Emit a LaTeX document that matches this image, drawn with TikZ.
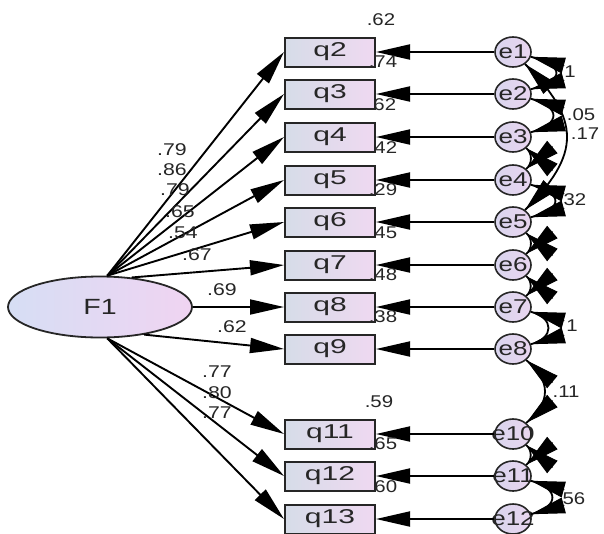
\documentclass[tikz,border=0pt]{standalone}
\usepackage{fontspec}
\usepackage{graphicx}
\setmainfont{Liberation Sans}
\usetikzlibrary{arrows.meta,shapes.geometric}
\definecolor{boxL}{HTML}{D6DCE8}
\definecolor{boxR}{HTML}{EFD9F1}
\definecolor{errL}{HTML}{D9D5EE}
\definecolor{errR}{HTML}{E9D5EF}
\definecolor{fL}{HTML}{D6DEF4}
\definecolor{fR}{HTML}{F0D4F2}
\newcommand{\hsc}[2]{\scalebox{#1}[1]{#2}}
\begin{document}
\begin{tikzpicture}[x=1pt,y=1pt,
  box/.style={draw=black!85, line width=2pt, minimum width=90pt, minimum height=29pt, inner sep=0pt, left color=boxL, right color=boxR, font=\fontsize{20}{20}\selectfont, text=black!85},
  err/.style={ellipse, draw=black!85, line width=1.6pt, minimum width=36pt, minimum height=30pt, inner sep=0pt, left color=errL, right color=errR},
  etxt/.style={font=\fontsize{20}{20}\selectfont, text=black!85, inner sep=0pt},
  lat/.style={ellipse, draw=black!85, line width=1.8pt, minimum width=184pt, minimum height=61pt, inner sep=0pt, left color=fL, right color=fR, font=\fontsize{22}{22}\selectfont, text=black!85},
  lbl/.style={font=\fontsize{17}{17}\selectfont, text=black!85, inner sep=0pt},
  arr/.style={-{Triangle[length=34pt,width=15pt]}, line width=1.9pt},
  covline/.style={line width=1.8pt},
  covhead/.style={{Triangle[length=34pt,width=16pt]}-, line width=1pt},
]
\useasboundingbox (0,0) rectangle (604,-533);
\fill[white] (0,0) rectangle (604,-533);

% latent
\node[lat] (F1) at (100,-307) {\hsc{1.3}{F1}};

% observed boxes
\node[box] (q2)  at (330,-52)  {\hsc{1.5}{q2}};
\node[box] (q3)  at (330,-94)  {\hsc{1.5}{q3}};
\node[box] (q4)  at (330,-137) {\hsc{1.5}{q4}};
\node[box] (q5)  at (330,-180) {\hsc{1.5}{q5}};
\node[box] (q6)  at (330,-222) {\hsc{1.5}{q6}};
\node[box] (q7)  at (330,-265) {\hsc{1.5}{q7}};
\node[box] (q8)  at (330,-307) {\hsc{1.5}{q8}};
\node[box] (q9)  at (330,-349) {\hsc{1.5}{q9}};
\node[box] (q11) at (330,-434) {\hsc{1.5}{q11}};
\node[box] (q12) at (330,-476) {\hsc{1.5}{q12}};
\node[box] (q13) at (330,-519) {\hsc{1.5}{q13}};

% errors
\node[err, label={[etxt]center:\hsc{1.3}{e1}}]  (e1)  at (513,-52)  {};
\node[err, label={[etxt]center:\hsc{1.3}{e2}}]  (e2)  at (513,-94)  {};
\node[err, label={[etxt]center:\hsc{1.3}{e3}}]  (e3)  at (513,-137) {};
\node[err, label={[etxt]center:\hsc{1.3}{e4}}]  (e4)  at (513,-180) {};
\node[err, label={[etxt]center:\hsc{1.3}{e5}}]  (e5)  at (513,-222) {};
\node[err, label={[etxt]center:\hsc{1.3}{e6}}]  (e6)  at (513,-265) {};
\node[err, label={[etxt]center:\hsc{1.3}{e7}}]  (e7)  at (513,-307) {};
\node[err, label={[etxt]center:\hsc{1.3}{e8}}]  (e8)  at (513,-349) {};
\node[err, label={[etxt]center:\hsc{1.3}{e10}}] (e10) at (513,-434) {};
\node[err, label={[etxt]center:\hsc{1.3}{e11}}] (e11) at (513,-476) {};
\node[err, label={[etxt]center:\hsc{1.3}{e12}}] (e12) at (513,-519) {};

% loadings
\draw[arr] (F1.77) -- (q2.west);
\draw[arr] (F1.77) -- (q3.west);
\draw[arr] (F1.77) -- (q4.west);
\draw[arr] (F1.77) -- (q5.west);
\draw[arr] (F1.77) -- (q6.west);
\draw[arr] (F1.43) -- (q7.west);
\draw[arr] (F1.east) -- (q8.west);
\draw[arr] (F1.-32) -- (q9.west);
\draw[arr] (F1.-77) -- (q11.west);
\draw[arr] (F1.-77) -- (q12.west);
\draw[arr] (F1.-77) -- (q13.west);

% error paths
\foreach \e/\q in {e1/q2,e2/q3,e3/q4,e4/q5,e5/q6,e6/q7,e7/q8,e8/q9,e10/q11,e11/q12,e12/q13}
  \draw[arr] (\e) -- (\q);

% loading labels
\node[lbl] (l2)  at (172,-150) {\hsc{1.25}{.79}};
\node[lbl] (l3)  at (172,-170) {\hsc{1.25}{.86}};
\node[lbl] (l4)  at (175,-190) {\hsc{1.25}{.79}};
\node[lbl] (l5)  at (180,-212) {\hsc{1.25}{.65}};
\node[lbl] (l6)  at (183,-233) {\hsc{1.25}{.54}};
\node[lbl] (l7)  at (197,-255) {\hsc{1.25}{.67}};
\node[lbl] (l8)  at (222,-290) {\hsc{1.25}{.69}};
\node[lbl] (l9)  at (232,-327) {\hsc{1.25}{.62}};
\node[lbl] (l11) at (217,-372) {\hsc{1.25}{.77}};
\node[lbl] (l12) at (217,-393) {\hsc{1.25}{.80}};
\node[lbl] (l13) at (217,-413) {\hsc{1.25}{.77}};

% squared multiple correlations
\node[lbl] (r2)  at ([shift={(5,17)}]q2.north east)  {\hsc{1.2}{.62}};
\node[lbl] (r3)  at ([shift={(7,17)}]q3.north east)  {\hsc{1.2}{.74}};
\node[lbl] (r4)  at ([shift={(6,17)}]q4.north east)  {\hsc{1.2}{.62}};
\node[lbl] (r5)  at ([shift={(7,17)}]q5.north east)  {\hsc{1.2}{.42}};
\node[lbl] (r6)  at ([shift={(7,17)}]q6.north east)  {\hsc{1.2}{.29}};
\node[lbl] (r7)  at ([shift={(7,17)}]q7.north east)  {\hsc{1.2}{.45}};
\node[lbl] (r8)  at ([shift={(7,17)}]q8.north east)  {\hsc{1.2}{.48}};
\node[lbl] (r9)  at ([shift={(7,17)}]q9.north east)  {\hsc{1.2}{.38}};
\node[lbl] (r11) at ([shift={(3,17)}]q11.north east) {\hsc{1.2}{.59}};
\node[lbl] (r12) at ([shift={(7,17)}]q12.north east) {\hsc{1.2}{.65}};
\node[lbl] (r13) at ([shift={(7,17)}]q13.north east) {\hsc{1.2}{.60}};

% covariance labels
\node[lbl] (c12)  at (570,-72)  {\hsc{1.2}{1}};
\node[lbl] (c23)  at (581,-115) {\hsc{1.2}{.05}};
\node[lbl] (c15)  at (585,-134) {\hsc{1.2}{.17}};
\node[lbl] (c45)  at (572,-200) {\hsc{1.2}{.32}};
\node[lbl] (c78)  at (572,-326) {\hsc{1.2}{1}};
\node[lbl] (c810) at (566,-392) {\hsc{1.2}{.11}};
\node[lbl] (c1112) at (571,-499) {\hsc{1.2}{.56}};

% covariances: curve, then a head at each end
\foreach \a/\b/\o/\l in {e1/e2/15/2.79, e2/e3/15/2.39, e4/e5/15/2.68, e7/e8/15/1.92, e11/e12/15/2.28, e1/e5/45/1.39, e8/e10/40/1.33, e3/e4/40/1, e5/e6/40/1, e6/e7/40/1, e10/e11/40/1} {
  \draw[covline] (\a) to[out=-\o,in=\o,looseness=\l] (\b);
  \draw[covhead] (\a.-\o) -- ++(-\o:34.5);
  \draw[covhead] (\b.\o) -- ++(\o:34.5);
}
\end{tikzpicture}
\end{document}
